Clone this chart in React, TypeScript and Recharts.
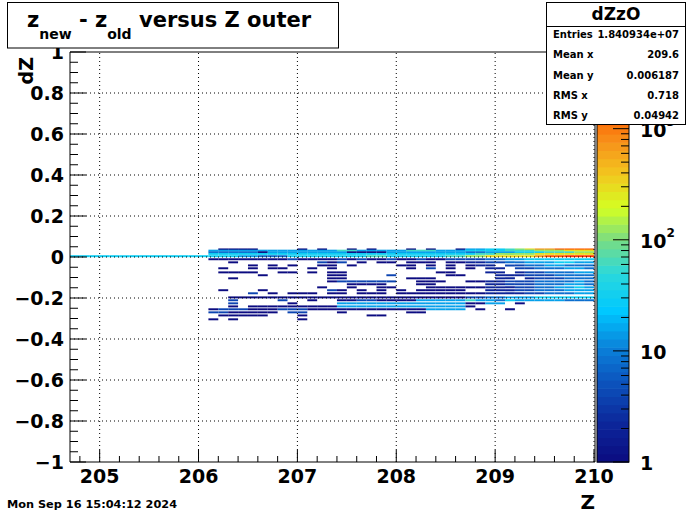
import React from 'react'
import { ComposedChart, XAxis, YAxis, ReferenceArea, ReferenceLine, Scatter } from 'recharts'

// histogram binning
const Z_BINS = [
  204.7, 204.8, 204.9, 205.0, 205.1, 205.2, 205.3, 205.4, 205.5, 205.6, 205.7, 205.8, 205.9, 206.0,
  206.1, 206.2, 206.3, 206.4, 206.5, 206.6, 206.7, 206.8, 206.9, 207.0, 207.1, 207.2, 207.3,
  207.4, 207.5, 207.6, 207.7, 207.8, 207.9, 208.0, 208.1, 208.2, 208.3, 208.4, 208.5, 208.6,
  208.7, 208.8, 208.9, 209.0, 209.1, 209.2, 209.3, 209.4, 209.5, 209.6, 209.7, 209.8, 209.9,
]
const Z_BIN_WIDTH = 0.1
const DZ_ROW_HEIGHT = 0.0095

const DZ_ROWS = [
  0.037, 0.031, 0.023, 0.015, 0.004, -0.011, -0.026, -0.041, -0.055, -0.075, -0.089, -0.104, -0.119,
  -0.133, -0.148, -0.162, -0.177, -0.197, -0.211, -0.226, -0.241, -0.255, -0.27, -0.285, -0.304,
]

// one char per z bin: '.' empty, then count levels (see LEVEL_COUNTS)
const ROW_LEVELS = [
  '.............. .1111....1.1. .1.1...1.1..1 5566789aabbbb',
  '.............. 5555555555555 7755555777555 6666777888999',
  '.............. 4444415555555 5111155555555 4455566677788',
  '.............. 6666666666666 6666666666666 6778888999999',
  '66666666666666 6665544466666 6667766666677 8899999abbccc',
  '.............. 1111111131111 3131131131133 3344556666666',
  '.............. ..1........31 3.1.11.111.11 2233445556655',
  '.............. ....1.1.1..11 .1....11.1.1. 122.334455444',
  '.............. .1..1.11..1.1 .......1.3.1. 1.22.33444554',
  '.............. .1111..11.1.1 1.........11. ..22.23344455',
  '.............. .....1......1 1....3.....11 ...2223334444',
  '.............. ..1.........1 1......111... ...22.2333444',
  '.............. ............1 333333..111.. 1122333444454',
  '.............. ............. .1111...11... ..22333444554',
  '.............. ...........1. .1..11...1111 1122233445565',
  '.............. .1...1......3 1.1.1.1.11111 ..22233444555',
  '.............. ....3.1.111.1 1.111.1111111 1122223344455',
  '.............. ..11111111111 1111111111111 3344555666666',
  '.............. ..3....3..1.. 1133111155555 7554655555444',
  '.............. ..3.....1.... 5555555555555 1155.1.......',
  '.............. ..1.111111111 5555555555555 1............',
  '.............. 1333111333111 1111111115555 .1..1........',
  '.............. 3311111.33... 1......11.... .............',
  '.............. .11111...1... ...11........ .............',
  '.............. 1.1......1... ............. .............',
]
const LEVEL_KEYS = '123456789abc'
const LEVEL_COUNTS = [1, 2, 4, 8, 15, 30, 60, 120, 300, 700, 1500, 3000]

const X_MAJOR = [205, 206, 207, 208, 209, 210]
const X_MINOR = [204.8, 205.2, 205.4, 205.6, 205.8, 206.2, 206.4, 206.6, 206.8, 207.2, 207.4, 207.6, 207.8,
  208.2, 208.4, 208.6, 208.8, 209.2, 209.4, 209.6, 209.8]
const Y_MAJOR = [-1, -0.8, -0.6, -0.4, -0.2, 0, 0.2, 0.4, 0.6, 0.8, 1]
const Y_MINOR = [-0.95, -0.9, -0.85, -0.75, -0.7, -0.65, -0.55, -0.5, -0.45, -0.35, -0.3, -0.25, -0.15, -0.1,
  -0.05, 0.05, 0.1, 0.15, 0.25, 0.3, 0.35, 0.45, 0.5, 0.55, 0.65, 0.7, 0.75, 0.85, 0.9, 0.95]

const Z_MAX = 4900
const PALETTE_LABELS = [
  { v: 1, base: '1', exp: '' },
  { v: 10, base: '10', exp: '' },
  { v: 100, base: '10', exp: '2' },
  { v: 1000, base: '10', exp: '3' },
]

const STATS = [
  ['Entries', '1.840934e+07'],
  ['Mean x', '209.6'],
  ['Mean y', '0.006187'],
  ['RMS x', '0.718'],
  ['RMS y', '0.04942'],
]

const PALETTE_STOPS: [number, number[]][] = [
  [0.0, [11, 11, 128]],
  [0.1, [12, 40, 156]],
  [0.2, [12, 85, 190]],
  [0.28, [10, 130, 218]],
  [0.37, [0, 200, 255]],
  [0.46, [42, 216, 220]],
  [0.54, [120, 220, 132]],
  [0.62, [212, 255, 34]],
  [0.7, [242, 200, 30]],
  [0.78, [247, 146, 26]],
  [0.86, [255, 90, 0]],
  [1.0, [255, 32, 0]],
]

function paletteColor(f: number) {
  const t = Math.max(0, Math.min(1, f))
  for (let i = 1; i < PALETTE_STOPS.length; i++) {
    const [f1, c1] = PALETTE_STOPS[i]
    const [f0, c0] = PALETTE_STOPS[i - 1]
    if (t <= f1) {
      const u = (t - f0) / (f1 - f0)
      const c = c0.map((a, k) => Math.round(a + (c1[k] - a) * u))
      return `rgb(${c[0]},${c[1]},${c[2]})`
    }
  }
  return 'rgb(255,32,0)'
}

const LOG_MAX = Math.log10(Z_MAX)
const countColor = (n: number) => paletteColor(Math.log10(n) / LOG_MAX)

type Cell = { z0: number; z1: number; dz: number; count: number }
const cells: Cell[] = []
ROW_LEVELS.forEach((row, i) => {
  const chars = row.replace(/ /g, '')
  for (let j = 0; j < chars.length && j < Z_BINS.length; j++) {
    const k = LEVEL_KEYS.indexOf(chars[j])
    if (k < 0) continue
    cells.push({ z0: Z_BINS[j], z1: Z_BINS[j] + Z_BIN_WIDTH, dz: DZ_ROWS[i], count: LEVEL_COUNTS[k] })
  }
})

const FONT = '"DejaVu Sans", sans-serif'

const XTick = (props: any) => {
  const { x, y, payload } = props
  const v = payload.value
  const major = X_MAJOR.includes(v)
  return (
    <g>
      <line x1={x} x2={x} y1={y} y2={y - (major ? 12 : 6)} stroke="#000" />
      {major && (
        <text x={x} y={y + 21} textAnchor="middle" fontFamily={FONT} fontWeight="bold" fontSize={19} fill="#000">
          {v}
        </text>
      )}
    </g>
  )
}

const YTick = (props: any) => {
  const { x, y, payload } = props
  const v = payload.value
  const major = Y_MAJOR.includes(v)
  const label = v === 0 ? '0' : (v < 0 ? '\u2212' : '') + Math.abs(v)
  return (
    <g>
      <line x1={x} x2={x + (major ? 16 : 8)} y1={y} y2={y} stroke="#000" />
      {major && (
        <text x={x - 6} y={y + 7} textAnchor="end" fontFamily={FONT} fontWeight="bold" fontSize={19} fill="#000">
          {label}
        </text>
      )}
    </g>
  )
}

const PAL = { x: 597, w: 32, top: 52, bottom: 462 }
const palY = (v: number) => PAL.bottom - (Math.log10(v) / LOG_MAX) * (PAL.bottom - PAL.top)

function Overlay() {
  const bands = Array.from({ length: 50 }, (_, i) => i)
  const bandH = (PAL.bottom - PAL.top) / 50
  const minor: number[] = []
  for (const d of [1, 10, 100, 1000]) for (let m = 2; m <= 9; m++) if (d * m <= Z_MAX) minor.push(d * m)
  return (
    <svg width={700} height={514} style={{ position: 'absolute', left: 0, top: 0 }}>
      {bands.map((i) => (
        <rect key={i} x={PAL.x} y={PAL.bottom - (i + 1) * bandH} width={PAL.w} height={bandH + 0.6}
          fill={paletteColor((i + 0.5) / 50)} />
      ))}
      <rect x={PAL.x} y={PAL.top} width={PAL.w} height={PAL.bottom - PAL.top} fill="none" stroke="#000" />
      {PALETTE_LABELS.map((l) => (
        <g key={l.v}>
          <line x1={PAL.x + PAL.w - 16} x2={PAL.x + PAL.w} y1={palY(l.v)} y2={palY(l.v)} stroke="#000" />
          <text x={640} y={palY(l.v) + 8} fontFamily={FONT} fontWeight="bold" fontSize={19}>
            {l.base}
            {l.exp && <tspan dy={-11} fontSize={12}>{l.exp}</tspan>}
          </text>
        </g>
      ))}
      {minor.map((v) => (
        <line key={v} x1={PAL.x + PAL.w - 8} x2={PAL.x + PAL.w} y1={palY(v)} y2={palY(v)} stroke="#000" />
      ))}

      {/* title */}
      <rect x={7.5} y={2.5} width={331} height={45.5} fill="#fff" stroke="#000" />
      <text y={27} fontFamily={FONT} fontWeight="bold" fontSize={21} fill="#000">
        <tspan x={27}>z</tspan>
        <tspan dy={12} fontSize={14}>new</tspan>
        <tspan dy={-12}> - z</tspan>
        <tspan dy={12} fontSize={14}>old</tspan>
        <tspan dy={-12}> versus Z outer</tspan>
      </text>

      {/* stats box */}
      <rect x={546.5} y={2.5} width={139} height={122} fill="#fff" stroke="#000" />
      <line x1={546.5} x2={685.5} y1={26.5} y2={26.5} stroke="#000" />
      <text x={616} y={20} textAnchor="middle" fontFamily={FONT} fontWeight="bold" fontSize={17}>dZzO</text>
      {STATS.map(([k, v], i) => (
        <g key={k} fontFamily={FONT} fontWeight="bold" fontSize={10}>
          <text x={553} y={38 + i * 20.3}>{k}</text>
          <text x={679} y={38 + i * 20.3} textAnchor="end">{v}</text>
        </g>
      ))}

      {/* axis titles */}
      <text x={595} y={509} textAnchor="end" fontFamily={FONT} fontWeight="bold" fontSize={20}>Z</text>
      <text transform="translate(33,57) rotate(-90)" textAnchor="end" fontFamily={FONT} fontWeight="bold" fontSize={19}>dZ</text>

      <text x={7} y={508} fontFamily={FONT} fontWeight="bold" fontSize={11.3}>Mon Sep 16 15:04:12 2024</text>
    </svg>
  )
}

export default function App() {
  return (
    <div style={{ position: 'absolute', left: 0, top: 0, width: 700, height: 514, background: '#fff' }}>
      <ComposedChart width={700} height={514} data={cells} margin={{ top: 52, right: 105, bottom: 12, left: 10 }}>
        <XAxis
          type="number"
          dataKey="z0"
          domain={[204.7, 210.01]}
          allowDataOverflow
          ticks={[...X_MINOR, ...X_MAJOR].sort((a, b) => a - b)}
          interval={0}
          tick={<XTick />}
          tickLine={false}
          tickSize={0}
          tickMargin={0}
          height={40}
          axisLine={{ stroke: '#000' }}
        />
        <YAxis
          type="number"
          dataKey="dz"
          domain={[-1, 1]}
          allowDataOverflow
          ticks={[...Y_MINOR, ...Y_MAJOR].sort((a, b) => a - b)}
          interval={0}
          tick={<YTick />}
          tickLine={false}
          tickSize={0}
          tickMargin={0}
          width={60}
          axisLine={{ stroke: '#000' }}
        />
        {cells.map((c, i) => (
          <ReferenceArea
            key={i}
            x1={c.z0}
            x2={c.z1}
            y1={c.dz - DZ_ROW_HEIGHT / 2}
            y2={c.dz + DZ_ROW_HEIGHT / 2}
            fill={countColor(c.count)}
            fillOpacity={1}
            stroke="none"
            ifOverflow="visible"
          />
        ))}
        {X_MAJOR.map((v) => (
          <ReferenceLine key={'gx' + v} x={v} stroke="#000" strokeDasharray="1 3" />
        ))}
        {Y_MAJOR.filter((v) => Math.abs(v) < 1).map((v) => (
          <ReferenceLine key={'gy' + v} y={v} stroke="#000" strokeDasharray="1 3" />
        ))}
        <ReferenceLine y={1} stroke="#000" />
        <ReferenceLine x={210.01} stroke="#000" />
        <Scatter dataKey="dz" isAnimationActive={false} shape={() => <g />} legendType="none" />
      </ComposedChart>
      <Overlay />
    </div>
  )
}
